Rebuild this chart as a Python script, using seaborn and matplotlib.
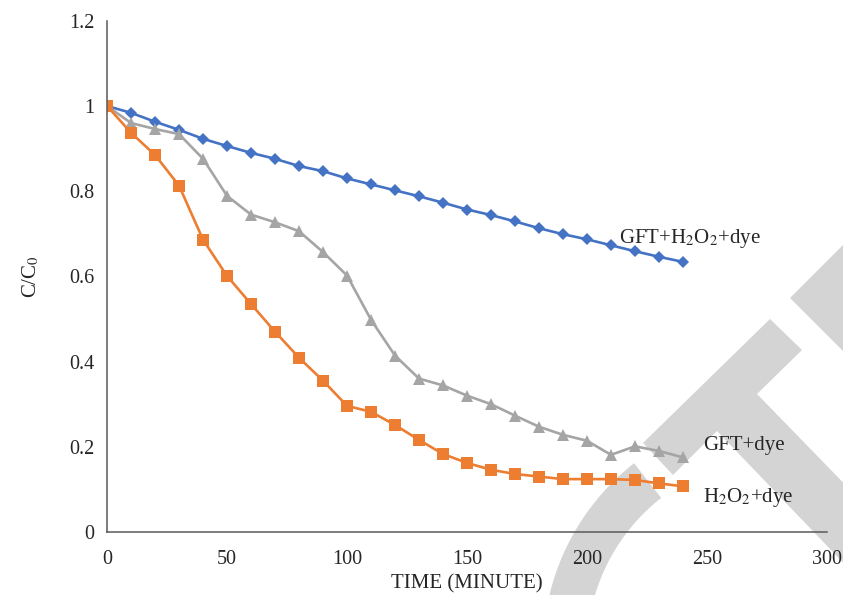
#%% Imports

import numpy as np
import pandas as pd
import matplotlib.pyplot as plt
import matplotlib.patches as mpatches
import seaborn as sns

#%% Data

time_min = [0, 10, 20, 30, 40, 50, 60, 70, 80, 90, 100, 110, 120,
            130, 140, 150, 160, 170, 180, 190, 200, 210, 220, 230, 240]

gft_h2o2_dye = [1.0, 0.984, 0.963, 0.944, 0.923, 0.906, 0.890, 0.876, 0.859,
                0.847, 0.830, 0.816, 0.802, 0.788, 0.773, 0.757, 0.744, 0.729,
                0.713, 0.699, 0.687, 0.673, 0.659, 0.646, 0.634]

gft_dye = [1.0, 0.960, 0.946, 0.934, 0.876, 0.789, 0.745, 0.727, 0.706,
           0.657, 0.602, 0.498, 0.414, 0.360, 0.344, 0.320, 0.300, 0.273,
           0.247, 0.228, 0.214, 0.181, 0.201, 0.190, 0.175]

h2o2_dye = [1.0, 0.937, 0.885, 0.813, 0.686, 0.601, 0.535, 0.470, 0.409,
            0.355, 0.296, 0.282, 0.251, 0.216, 0.183, 0.162, 0.146, 0.136,
            0.130, 0.124, 0.124, 0.124, 0.122, 0.114, 0.107]

series_labels = [r'GFT+H$_2$O$_2$+dye', 'GFT+dye', r'H$_2$O$_2$+dye']

x_ticks = [0, 50, 100, 150, 200, 250, 300]
y_ticks = [0, 0.2, 0.4, 0.6, 0.8, 1.0, 1.2]
y_tick_labels = ['0', '0.2', '0.4', '0.6', '0.8', '1', '1.2']

df = pd.DataFrame({'time': time_min * 3,
                   'ratio': gft_h2o2_dye + gft_dye + h2o2_dye,
                   'series': ['a'] * 25 + ['b'] * 25 + ['c'] * 25})

#%% Style

sns.set_style('white')
plt.rcParams['font.family'] = ['Liberation Serif', 'DejaVu Serif']
plt.rcParams['mathtext.fontset'] = 'stix'

axis_col = '#595959'
text_col = '#262626'
wm_col = '#d4d4d4'

fig = plt.figure(figsize=(8.43, 5.95), dpi=100)

#%% Watermark layer (pixel coordinates of the page)

wm = fig.add_axes([0, 0, 1, 1], zorder=0)
wm.set_xlim(0, 843)
wm.set_ylim(595, 0)
wm.axis('off')

wm.add_patch(mpatches.Polygon(
    [(643, 443), (770, 319), (802, 350), (757, 394), (900, 541),
     (900, 622), (717, 431), (673, 475)], closed=True, color=wm_col, lw=0))
wm.add_patch(mpatches.Polygon(
    [(790, 298), (900, 188), (900, 408)], closed=True, color=wm_col, lw=0))
wm.add_patch(mpatches.Wedge((780, 650), 237, 150, 232, width=44,
                            color=wm_col, lw=0))

#%% Main plot

ax = fig.add_axes([0.127, 0.106, 0.854, 0.859], zorder=1)
ax.patch.set_alpha(0)

styles = {'a': ('#4472c4', 'D', 6.5),
          'b': ('#a5a5a5', '^', 8),
          'c': ('#ed7d31', 's', 8.5)}

for key, (col, mk, ms) in styles.items():
    sns.lineplot(data=df[df['series'] == key], x='time', y='ratio',
                 color=col, marker=mk, markersize=ms, markeredgewidth=0,
                 linewidth=1.9, ax=ax, legend=False)

ax.set_xlim(0, 300)
ax.set_ylim(0, 1.2)
ax.set_xticks(x_ticks)
ax.set_xticklabels([str(t) for t in x_ticks])
ax.set_yticks(y_ticks)
ax.set_yticklabels(y_tick_labels)

for s in ['top', 'right']:
    ax.spines[s].set_visible(False)
for s in ['left', 'bottom']:
    ax.spines[s].set_color(axis_col)
    ax.spines[s].set_linewidth(1.1)

ax.tick_params(axis='both', direction='out', length=5, width=1.1,
               color=axis_col, labelcolor=text_col, labelsize=14.5, pad=4)
ax.tick_params(axis='x', pad=8)

ax.set_xlabel('TIME (MINUTE)', fontsize=15, color=text_col, labelpad=4)
ax.set_ylabel(r'C/C$_0$', fontsize=15, color=text_col, labelpad=20)

ax.text(213.5, 0.69, series_labels[0], fontsize=15, color=text_col,
        va='center', ha='left')
ax.text(248.5, 0.204, series_labels[1], fontsize=15, color=text_col,
        va='center', ha='left')
ax.text(248.5, 0.082, series_labels[2], fontsize=15, color=text_col,
        va='center', ha='left')

fig.savefig('out.png', dpi=100)
